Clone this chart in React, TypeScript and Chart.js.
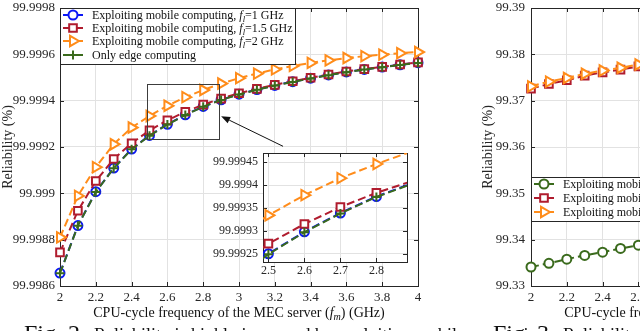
import React, { useEffect, useRef } from 'react';
import { Chart, registerables } from 'chart.js';

Chart.register(...registerables);

const SERIF = "'Liberation Serif', 'Times New Roman', Times, serif";
const INK = '#262626';
const GRID = '#e2e2e2';
const BLUE = '#0b17f5';
const RED = '#b01c2e';
const ORANGE = '#ff8c1a';
const GREEN = '#3a6a1c';

// ---------------- Fig. 2 data ----------------
const FM = [2.0, 2.1, 2.2, 2.3, 2.4, 2.5, 2.6, 2.7, 2.8, 2.9, 3.0, 3.1, 3.2, 3.3, 3.4, 3.5, 3.6, 3.7, 3.8, 3.9, 4.0];
const REL_FL_1 = [99.998656, 99.998861, 99.999007, 99.999109, 99.999191, 99.99925, 99.999298, 99.999339, 99.999375, 99.999404, 99.999428, 99.999448, 99.999466, 99.999482, 99.999497, 99.999511, 99.999524, 99.999535, 99.999545, 99.999555, 99.999564];
const REL_FL_15 = [99.998745, 99.998925, 99.999053, 99.999148, 99.999216, 99.999272, 99.999315, 99.999352, 99.999383, 99.999409, 99.999432, 99.999451, 99.999468, 99.999484, 99.999499, 99.999513, 99.999526, 99.999536, 99.999546, 99.999556, 99.999565];
const REL_FL_2 = [99.99881, 99.998989, 99.999113, 99.999212, 99.999284, 99.999334, 99.999378, 99.999415, 99.999446, 99.999474, 99.999497, 99.999517, 99.999535, 99.99955, 99.999563, 99.999574, 99.999584, 99.999592, 99.999599, 99.999605, 99.99961];
const REL_EDGE = [99.998655, 99.99886, 99.999006, 99.999108, 99.99919, 99.999249, 99.999297, 99.999338, 99.999374, 99.999403, 99.999427, 99.999447, 99.999465, 99.999481, 99.999496, 99.99951, 99.999523, 99.999534, 99.999544, 99.999554, 99.999563];

const MAIN_X_TICKS = [2, 2.2, 2.4, 2.6, 2.8, 3, 3.2, 3.4, 3.6, 3.8, 4];
const MAIN_X_LABELS = ['2', '2.2', '2.4', '2.6', '2.8', '3', '3.2', '3.4', '3.6', '3.8', '4'];
const MAIN_Y_TICKS = [99.9986, 99.9988, 99.999, 99.9992, 99.9994, 99.9996, 99.9998];
const MAIN_Y_LABELS = ['99.9986', '99.9988', '99.999', '99.9992', '99.9994', '99.9996', '99.9998'];

const INSET_X_RANGE = [2.485, 2.885];
const INSET_Y_RANGE = [99.999232, 99.99947];
const INSET_X_TICKS = [2.5, 2.6, 2.7, 2.8];
const INSET_X_LABELS = ['2.5', '2.6', '2.7', '2.8'];
const INSET_Y_TICKS = [99.99925, 99.9993, 99.99935, 99.9994, 99.99945];
const INSET_Y_LABELS = ['99.99925', '99.9993', '99.99935', '99.9994', '99.99945'];

const ARROW_FROM = [3.246, 99.999203];
const ARROW_TO = [2.9, 99.999333];

const FL_VALUES = ['1', '1.5', '2'];
const MOBILE_LABEL = 'Exploiting mobile computing, ';
const EDGE_LABEL = 'Only edge computing';
const Y_TITLE = 'Reliability (%)';

// ---------------- Fig. 3 data (visible part) ----------------
const FM_3 = [2.0, 2.1, 2.2, 2.3, 2.4, 2.5, 2.6];
const REL3_FL_1 = [99.3341, 99.3349, 99.3358, 99.3366, 99.3373, 99.3381, 99.3388];
const REL3_FL_15 = [99.3726, 99.3736, 99.3744, 99.3754, 99.3761, 99.3767, 99.3774];
const REL3_FL_2 = [99.3731, 99.3741, 99.3749, 99.3758, 99.3765, 99.3771, 99.3778];
const FIG3_Y_TICKS = [99.33, 99.34, 99.35, 99.36, 99.37, 99.38, 99.39];
const FIG3_Y_LABELS = ['99.33', '99.34', '99.35', '99.36', '99.37', '99.38', '99.39'];

type Seg = { t: string; it?: boolean; sub?: boolean };

const X_TITLE: Seg[] = [
  { t: 'CPU-cycle frequency of the MEC server (' },
  { t: 'f', it: true },
  { t: 'm', it: true, sub: true },
  { t: ') (GHz)' },
];

function flLabel(v: string): Seg[] {
  return [{ t: MOBILE_LABEL }, { t: 'f', it: true }, { t: 'l', it: true, sub: true }, { t: '=' + v + ' GHz' }];
}

function drawRich(ctx: CanvasRenderingContext2D, segs: Seg[], x: number, y: number, size: number, align: 'left' | 'center') {
  const fontOf = (s: Seg) => `${s.it ? 'italic ' : ''}${s.sub ? size * 0.72 : size}px ${SERIF}`;
  const widths = segs.map((s) => {
    ctx.font = fontOf(s);
    return ctx.measureText(s.t).width;
  });
  const total = widths.reduce((a, b) => a + b, 0);
  let cx = align === 'center' ? x - total / 2 : x;
  ctx.textAlign = 'left';
  ctx.textBaseline = 'alphabetic';
  segs.forEach((s, i) => {
    ctx.font = fontOf(s);
    ctx.fillText(s.t, cx, s.sub ? y + size * 0.22 : y);
    cx += widths[i];
  });
}

type MarkerSpec = { style: string; r: number; rot: number };
const M_CIRCLE: MarkerSpec = { style: 'circle', r: 4.5, rot: 0 };
const M_SQUARE: MarkerSpec = { style: 'rect', r: 5.4, rot: 0 };
const M_TRI: MarkerSpec = { style: 'triangle', r: 6, rot: 90 };
const M_PLUS: MarkerSpec = { style: 'cross', r: 4.5, rot: 0 };

function drawMarker(ctx: CanvasRenderingContext2D, m: MarkerSpec, x: number, y: number, color: string) {
  ctx.save();
  ctx.strokeStyle = color;
  ctx.fillStyle = '#ffffff';
  ctx.lineWidth = 2;
  ctx.setLineDash([]);
  ctx.beginPath();
  const r = m.r;
  if (m.style === 'circle') {
    ctx.arc(x, y, r, 0, Math.PI * 2);
  } else if (m.style === 'rect') {
    const s = r * Math.SQRT1_2;
    ctx.rect(x - s, y - s, 2 * s, 2 * s);
  } else if (m.style === 'triangle') {
    ctx.moveTo(x + r, y);
    ctx.lineTo(x - r / 2, y - r * 0.866);
    ctx.lineTo(x - r / 2, y + r * 0.866);
    ctx.closePath();
  }
  if (m.style === 'cross') {
    ctx.moveTo(x - r, y);
    ctx.lineTo(x + r, y);
    ctx.moveTo(x, y - r);
    ctx.lineTo(x, y + r);
    ctx.stroke();
  } else {
    ctx.fill();
    ctx.stroke();
  }
  ctx.restore();
}

function series(xs: number[], ys: number[], color: string, m: MarkerSpec, order: number) {
  return {
    data: xs.map((x, i) => ({ x, y: ys[i] })),
    borderColor: color,
    backgroundColor: color,
    borderWidth: 2,
    borderDash: [8, 4],
    pointStyle: m.style,
    pointRadius: m.r,
    pointHoverRadius: m.r,
    pointRotation: m.rot,
    pointBorderColor: color,
    pointBackgroundColor: '#ffffff',
    pointBorderWidth: 2,
    fill: false,
    tension: 0,
    order,
  };
}

function axis(o: {
  min: number; max: number; ticks: number[]; labels: string[]; size: number; pad: number; font: number; title?: string;
}) {
  return {
    type: 'linear',
    min: o.min,
    max: o.max,
    afterBuildTicks: (s: any) => {
      s.ticks = o.ticks.map((v) => ({ value: v }));
    },
    afterFit: (s: any) => {
      if (s.isHorizontal()) s.height = o.size;
      else s.width = o.size;
      s.paddingLeft = 0;
      s.paddingRight = 0;
      s.paddingTop = 0;
      s.paddingBottom = 0;
    },
    grid: { color: GRID, lineWidth: 1, drawTicks: false },
    border: { display: false },
    ticks: {
      autoSkip: false,
      maxRotation: 0,
      minRotation: 0,
      padding: o.pad,
      color: INK,
      font: { family: SERIF, size: o.font },
      callback: (_v: any, i: number) => o.labels[i],
    },
    title: o.title
      ? { display: true, text: o.title, color: INK, font: { family: SERIF, size: 14 }, padding: 0 }
      : { display: false },
  };
}

function framePlugin(fill: boolean) {
  return {
    id: 'frame',
    beforeDraw(chart: any) {
      if (!fill) return;
      const { ctx, chartArea: a } = chart;
      ctx.save();
      ctx.fillStyle = '#ffffff';
      ctx.fillRect(a.left, a.top, a.right - a.left, a.bottom - a.top);
      ctx.restore();
    },
    beforeDatasetsDraw(chart: any) {
      const { ctx, chartArea: a, scales } = chart;
      const x = scales.x;
      const y = scales.y;
      const L = 4;
      ctx.save();
      ctx.strokeStyle = INK;
      ctx.lineWidth = 1;
      ctx.beginPath();
      for (const t of x.ticks) {
        const px = Math.round(x.getPixelForValue(t.value)) + 0.5;
        ctx.moveTo(px, a.bottom);
        ctx.lineTo(px, a.bottom - L);
        ctx.moveTo(px, a.top);
        ctx.lineTo(px, a.top + L);
      }
      for (const t of y.ticks) {
        const py = Math.round(y.getPixelForValue(t.value)) + 0.5;
        ctx.moveTo(a.left, py);
        ctx.lineTo(a.left + L, py);
        ctx.moveTo(a.right, py);
        ctx.lineTo(a.right - L, py);
      }
      ctx.stroke();
      ctx.strokeRect(Math.round(a.left) + 0.5, Math.round(a.top) + 0.5, Math.round(a.right - a.left), Math.round(a.bottom - a.top));
      ctx.restore();
    },
  };
}

function xTitlePlugin(baselineOffset: number) {
  return {
    id: 'xTitle',
    afterDraw(chart: any) {
      const { ctx, chartArea: a } = chart;
      ctx.save();
      ctx.fillStyle = '#111111';
      drawRich(ctx, X_TITLE, (a.left + a.right) / 2, a.bottom + baselineOffset, 14, 'center');
      ctx.restore();
    },
  };
}

type LegendItem = { color: string; m: MarkerSpec; segs: Seg[] };

function legendPlugin(top: number | null, width: number, height: number, rows: number[], items: LegendItem[]) {
  return {
    id: 'boxLegend',
    afterDraw(chart: any) {
      const { ctx, chartArea: a } = chart;
      const left = Math.round(a.left);
      const t = top === null ? Math.round(a.top) : top;
      ctx.save();
      ctx.fillStyle = '#ffffff';
      ctx.fillRect(left + 0.5, t + 0.5, width, height);
      ctx.strokeStyle = INK;
      ctx.lineWidth = 1;
      ctx.strokeRect(left + 0.5, t + 0.5, width, height);
      items.forEach((it, i) => {
        const cy = t + rows[i];
        ctx.strokeStyle = it.color;
        ctx.lineWidth = 2;
        ctx.beginPath();
        ctx.moveTo(left + 3, cy);
        ctx.lineTo(left + 23, cy);
        ctx.stroke();
        drawMarker(ctx, it.m, left + 13, cy, it.color);
        ctx.fillStyle = '#111111';
        drawRich(ctx, it.segs, left + 32, cy + 4, 12, 'left');
      });
      ctx.restore();
    },
  };
}

const zoomMarkerPlugin = {
  id: 'zoomMarker',
  afterDatasetsDraw(chart: any) {
    const { ctx, scales } = chart;
    const x = scales.x;
    const y = scales.y;
    const x0 = x.getPixelForValue(INSET_X_RANGE[0]);
    const x1 = x.getPixelForValue(INSET_X_RANGE[1]);
    const y0 = y.getPixelForValue(INSET_Y_RANGE[1]);
    const y1 = y.getPixelForValue(INSET_Y_RANGE[0]);
    ctx.save();
    ctx.strokeStyle = '#3c3c3c';
    ctx.lineWidth = 1;
    ctx.strokeRect(Math.round(x0) + 0.5, Math.round(y0) + 0.5, Math.round(x1 - x0), Math.round(y1 - y0));
    const ax = x.getPixelForValue(ARROW_FROM[0]);
    const ay = y.getPixelForValue(ARROW_FROM[1]);
    const bx = x.getPixelForValue(ARROW_TO[0]);
    const by = y.getPixelForValue(ARROW_TO[1]);
    const ang = Math.atan2(by - ay, bx - ax);
    const hl = 9;
    const hw = 3.5;
    const baseX = bx - hl * Math.cos(ang);
    const baseY = by - hl * Math.sin(ang);
    ctx.strokeStyle = '#111111';
    ctx.beginPath();
    ctx.moveTo(ax, ay);
    ctx.lineTo(baseX, baseY);
    ctx.stroke();
    ctx.fillStyle = '#111111';
    ctx.beginPath();
    ctx.moveTo(bx, by);
    ctx.lineTo(baseX + hw * Math.sin(ang), baseY - hw * Math.cos(ang));
    ctx.lineTo(baseX - hw * Math.sin(ang), baseY + hw * Math.cos(ang));
    ctx.closePath();
    ctx.fill();
    ctx.restore();
  },
};

function fig2Datasets() {
  return [
    series(FM, REL_FL_1, BLUE, M_CIRCLE, 4),
    series(FM, REL_FL_15, RED, M_SQUARE, 3),
    series(FM, REL_FL_2, ORANGE, M_TRI, 2),
    series(FM, REL_EDGE, GREEN, M_PLUS, 1),
  ];
}

const baseOptions = {
  animation: false,
  responsive: false,
  devicePixelRatio: 1,
  events: [],
  plugins: { legend: { display: false }, tooltip: { enabled: false }, title: { display: false } },
};

function mainConfig(): any {
  const ds = fig2Datasets().map((d) => ({ ...d, clip: false }));
  return {
    type: 'line',
    data: { datasets: ds },
    options: {
      ...baseOptions,
      layout: { padding: { left: 0, top: 5, right: 12, bottom: 0 } },
      scales: {
        x: axis({ min: 2, max: 4, ticks: MAIN_X_TICKS, labels: MAIN_X_LABELS, size: 45, pad: 4, font: 13 }),
        y: axis({ min: 99.9986, max: 99.9998, ticks: MAIN_Y_TICKS, labels: MAIN_Y_LABELS, size: 60, pad: 5, font: 13, title: Y_TITLE }),
      },
    },
    plugins: [
      framePlugin(false),
      zoomMarkerPlugin,
      legendPlugin(null, 235, 56, [7, 20, 33, 47], [
        { color: BLUE, m: M_CIRCLE, segs: flLabel(FL_VALUES[0]) },
        { color: RED, m: M_SQUARE, segs: flLabel(FL_VALUES[1]) },
        { color: ORANGE, m: M_TRI, segs: flLabel(FL_VALUES[2]) },
        { color: GREEN, m: M_PLUS, segs: [{ t: EDGE_LABEL }] },
      ]),
      xTitlePlugin(31),
    ],
  };
}

function insetConfig(): any {
  return {
    type: 'line',
    data: { datasets: fig2Datasets() },
    options: {
      ...baseOptions,
      layout: { padding: { left: 0, top: 8, right: 7, bottom: 0 } },
      scales: {
        x: axis({ min: INSET_X_RANGE[0], max: INSET_X_RANGE[1], ticks: INSET_X_TICKS, labels: INSET_X_LABELS, size: 18, pad: 2, font: 12 }),
        y: axis({ min: INSET_Y_RANGE[0], max: INSET_Y_RANGE[1], ticks: INSET_Y_TICKS, labels: INSET_Y_LABELS, size: 63, pad: 5, font: 12 }),
      },
    },
    plugins: [framePlugin(true)],
  };
}

function fig3Config(): any {
  const ds = [
    series(FM_3, REL3_FL_1, GREEN, M_CIRCLE, 3),
    series(FM_3, REL3_FL_15, RED, M_SQUARE, 2),
    series(FM_3, REL3_FL_2, ORANGE, M_TRI, 1),
  ].map((d) => ({ ...d, clip: false }));
  return {
    type: 'line',
    data: { datasets: ds },
    options: {
      ...baseOptions,
      layout: { padding: { left: 0, top: 5, right: 12, bottom: 0 } },
      scales: {
        x: axis({ min: 2, max: 4, ticks: MAIN_X_TICKS, labels: MAIN_X_LABELS, size: 45, pad: 4, font: 13 }),
        y: axis({ min: 99.33, max: 99.39, ticks: FIG3_Y_TICKS, labels: FIG3_Y_LABELS, size: 51, pad: 6, font: 13, title: Y_TITLE }),
      },
    },
    plugins: [
      framePlugin(false),
      legendPlugin(177, 235, 44, [7, 21, 35], [
        { color: GREEN, m: M_CIRCLE, segs: flLabel(FL_VALUES[0]) },
        { color: RED, m: M_SQUARE, segs: flLabel(FL_VALUES[1]) },
        { color: ORANGE, m: M_TRI, segs: flLabel(FL_VALUES[2]) },
      ]),
      xTitlePlugin(31),
    ],
  };
}

export default function App() {
  const mainRef = useRef<HTMLCanvasElement>(null);
  const insetRef = useRef<HTMLCanvasElement>(null);
  const fig3Ref = useRef<HTMLCanvasElement>(null);

  useEffect(() => {
    const charts = [
      new Chart(mainRef.current as HTMLCanvasElement, mainConfig()),
      new Chart(fig3Ref.current as HTMLCanvasElement, fig3Config()),
      new Chart(insetRef.current as HTMLCanvasElement, insetConfig()),
    ];
    return () => charts.forEach((c) => c.destroy());
  }, []);

  const capStyle: React.CSSProperties = {
    position: 'absolute',
    top: 321,
    whiteSpace: 'nowrap',
    fontFamily: SERIF,
    fontSize: 24,
    lineHeight: '24px',
    color: '#111',
  };

  return (
    <div style={{ position: 'fixed', left: 0, top: 0, width: 640, height: 331, overflow: 'hidden', background: '#fff' }}>
      <canvas ref={mainRef} width={430} height={331} style={{ position: 'absolute', left: 0, top: 0, width: 430, height: 331 }} />
      <canvas ref={fig3Ref} width={421} height={331} style={{ position: 'absolute', left: 480, top: 0, width: 421, height: 331 }} />
      <canvas ref={insetRef} width={215} height={135} style={{ position: 'absolute', left: 200, top: 145, width: 215, height: 135 }} />
      <div style={{ ...capStyle, left: 24 }}>
        <span>Fig. 2.</span>
        <span style={{ fontSize: 18, marginLeft: 8 }}>Reliability is highly improved by exploiting mobile computing.</span>
      </div>
      <div style={{ ...capStyle, left: 493 }}>
        <span>Fig. 3.</span>
        <span style={{ fontSize: 18, marginLeft: 8 }}>Reliability versus the CPU-cycle frequency.</span>
      </div>
    </div>
  );
}
